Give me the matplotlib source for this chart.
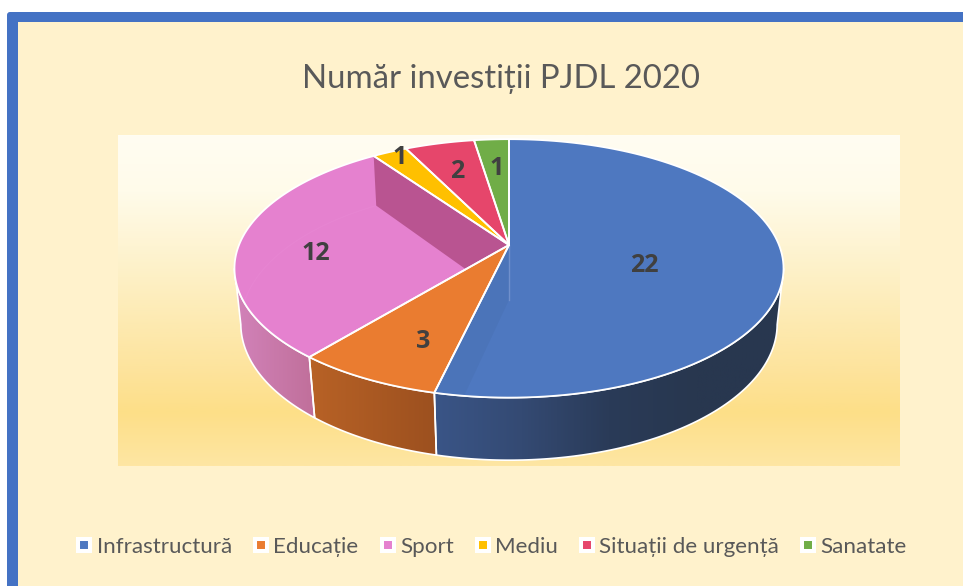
import numpy as np
import matplotlib
matplotlib.use("Agg")
import matplotlib.pyplot as plt
from matplotlib.colors import LinearSegmentedColormap
from matplotlib.lines import Line2D
from matplotlib.patches import Polygon, Rectangle, FancyBboxPatch

plt.rcParams["font.family"] = ["Lato", "Noto Sans", "DejaVu Sans"]

categories = ["Infrastructură", "Educație", "Sport", "Mediu", "Situații de urgență", "Sanatate"]
values = [22, 3, 12, 1, 2, 1]
colors = ["#4E78C0", "#EA7C30", "#E581CF", "#FFC000", "#E6466B", "#70AD47"]
wall_colors = [
    ["#3A5587", "#344A73", "#2A3B58", "#28374F", "#28374F"],
    ["#B86226", "#9C501F"],
    ["#D283BA", "#C06F9A"],
]
title = "Număr investiții PJDL 2020"

# label placement: fraction of radius along the slice middle, then a nudge down
label_r = [0.50, 0.64, 0.72, 0.90, 0.72, 0.65]
label_dy = [13, 17, 12, -3, 3, -4]

# perspective of the top and bottom disc (pixels)
top_ring = dict(cx=509, cy=245, rx=270, ry=125, k=0.181)
bot_ring = dict(cx=509, cy=300, rx=264, ry=132, k=0.176)


def proj(t_deg, ring, r=1.0):
    t = np.radians(t_deg)
    d = 1 + ring["k"] * r * np.cos(t)
    x = ring["cx"] + ring["rx"] * r * np.sin(t) / d
    y = ring["cy"] - ring["ry"] * r * np.cos(t) / d
    return np.column_stack([x, y])


def arc(t0, t1, ring):
    return proj(np.linspace(t0, t1, 120), ring)


fig = plt.figure(figsize=(9.63, 5.86), dpi=100, facecolor="white")
ax = fig.add_axes([0, 0, 1, 1])
ax.set_axis_off()

# frame
ax.add_patch(FancyBboxPatch((7, 12), 1000, 650, boxstyle="round,pad=0,rounding_size=3",
                            fc="#4472C4", ec="none", zorder=0))
ax.add_patch(Rectangle((18, 22), 1000, 650, fc="#FFF2CC", ec="none", zorder=0.1))

# plot area gradient
grad = LinearSegmentedColormap.from_list(
    "bg", [(0, "#FFFDF2"), (0.17, "#FFFBEA"), (0.5, "#FDEDBB"), (0.72, "#FDE39B"),
           (0.84, "#FDDF88"), (1, "#FEE6A3")])
ax.imshow(np.linspace(0, 1, 256).reshape(-1, 1), cmap=grad, vmin=0, vmax=1, aspect="auto",
          extent=(118, 900, 466, 135), zorder=0.2)

angles = np.concatenate([[0], np.cumsum(values) / np.sum(values) * 360])
sil_r = 100.4
sil_l = 259.6

# side walls of the slices facing the viewer
for i in range(3):
    t0 = max(angles[i], sil_r)
    t1 = min(angles[i + 1], sil_l)
    pts = np.vstack([arc(t0, t1, top_ring), arc(t1, t0, bot_ring)])
    poly = Polygon(pts, closed=True, fc="none", ec="none", zorder=1)
    ax.add_patch(poly)
    cm = LinearSegmentedColormap.from_list("w%d" % i, wall_colors[i])
    x0, x1 = pts[:, 0].min(), pts[:, 0].max()
    g = np.linspace(0, 1, 256).reshape(1, -1)
    if i == 0:
        g = 1 - g[:, ::-1]
    im = ax.imshow(g, cmap=cm, vmin=0, vmax=1, aspect="auto",
                   extent=(x0, x1, pts[:, 1].max(), pts[:, 1].min()), zorder=1)
    im.set_clip_path(poly)
    ax.add_patch(Polygon(pts, closed=True, fc="none", ec="white", lw=1.2, zorder=1.2))

# top faces
apex = proj(np.array([0.0]), top_ring, r=0)
apex_b = proj(np.array([0.0]), bot_ring, r=0)
tops = []
for i in range(len(values)):
    pts = np.vstack([apex, arc(angles[i], angles[i + 1], top_ring)])
    p = Polygon(pts, closed=True, fc=colors[i], ec="none", zorder=2)
    ax.add_patch(p)
    tops.append(p)

# inner wall of Sport seen through the gap, clipped by its own top face
t_end = angles[3]
inner = Polygon(np.vstack([proj(np.array([t_end]), top_ring), proj(np.array([t_end]), bot_ring),
                           apex_b, apex]),
                closed=True, fc="#B95491", ec="none", zorder=2.1)
ax.add_patch(inner)
inner.set_clip_path(tops[2])
faint, = ax.plot(*arc(t_end, sil_l, bot_ring).T, color="#E785D2", lw=0.8, zorder=2.05)
faint.set_clip_path(tops[2])

# same thing, very faint, inside the big blue slice
t_end = angles[1]
inner2 = Polygon(np.vstack([apex, apex_b, proj(np.array([t_end]), bot_ring),
                            proj(np.array([t_end]), top_ring)]),
                 closed=True, fc="black", alpha=0.03, ec="none", zorder=2.1)
ax.add_patch(inner2)
inner2.set_clip_path(tops[0])
ax.plot(*np.vstack([apex, apex_b]).T, color="#7090CC", lw=1, zorder=2.15)

# white outlines on top
for i in range(len(values)):
    pts = np.vstack([apex, arc(angles[i], angles[i + 1], top_ring)])
    ax.add_patch(Polygon(pts, closed=True, fc="none", ec="white", lw=1.3, zorder=2.2,
                         joinstyle="round"))

# data labels
for i, v in enumerate(values):
    mid = (angles[i] + angles[i + 1]) / 2
    x, y = proj(np.array([mid]), top_ring, r=label_r[i])[0]
    ax.text(x, y + label_dy[i], str(v), ha="center", va="center", fontsize=18,
            fontweight="bold", family=["Open Sans", "DejaVu Sans"], color="#404040", zorder=3)

ax.text(501, 79, title, ha="center", va="center", fontsize=23.7, color="#595959", zorder=3)

ax.set_xlim(0, 963)
ax.set_ylim(586, 0)

handles = [Line2D([], [], ls="none", marker="s", ms=8.6, mfc=c, mec="white", mew=2.9) for c in colors]
ax.legend(handles, categories, loc="center", bbox_to_anchor=(490 / 963, 1 - 547 / 586), ncols=6,
          frameon=False, fontsize=16.1, labelcolor="#595959", columnspacing=0.8, handletextpad=0.05,
          handlelength=1.0, borderpad=0)

fig.savefig("out.png", dpi=100)
